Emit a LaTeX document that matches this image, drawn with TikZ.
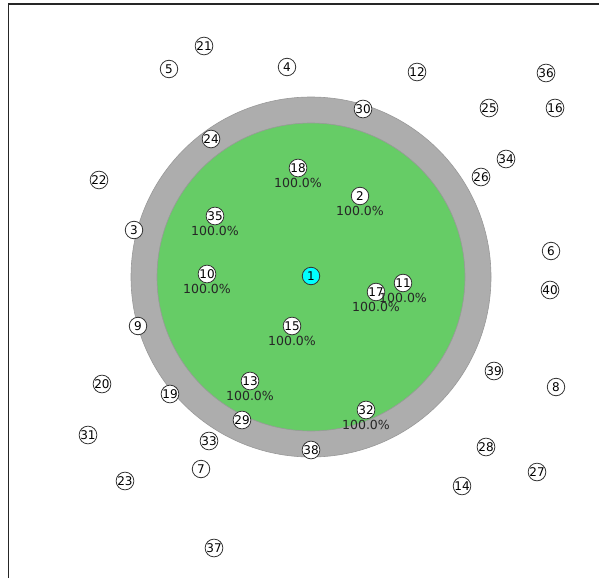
\documentclass[tikz,border=0pt]{standalone}
\usepackage{fontspec}
\setmainfont{DejaVu Sans}
\usepackage{xcolor}
\usetikzlibrary{positioning, calc}

\definecolor{zonegreen}{HTML}{66CC66}
\definecolor{ringgray}{HTML}{ADADAD}
\definecolor{sinkcyan}{HTML}{00FFFF}

\begin{document}
\begin{tikzpicture}[x=1pt, y=-1pt,
    nd/.style={draw=black!80, fill=white, circle, line width=0.8pt,
               minimum size=17.5pt, inner sep=0pt, font=\fontsize{12}{12}\selectfont},
    sink/.style={nd, fill=sinkcyan},
    pct/.style={inner sep=0pt, font=\fontsize{12.5}{12.5}\selectfont, text=black!85},
]
\useasboundingbox (0,0) rectangle (599,578);
% frame
\draw[line width=1.4pt, black!85] (8.5,578) -- (8.5,4) -- (599,4);

% coverage zones
\fill[ringgray, draw=black!40, line width=0.6pt] (311,277) circle (180);
\fill[zonegreen, draw=black!40, line width=0.6pt] (311,277) circle (154);

% sensor nodes
\node[sink] (n1) at (311,276) {1};
\foreach \id/\x/\y in {2/360/196, 3/134/230, 4/287/67, 5/169/69, 6/551/251,
    7/201/469, 8/556/387, 9/138/326, 10/207/274, 11/403/283, 12/417/72,
    13/250/381, 14/462/486, 15/292/326, 16/555/108, 17/376/292, 18/298/168,
    19/170/394, 20/102/384, 21/204/46, 22/99/180, 23/125/481, 24/211/139,
    25/489/108, 26/481/177, 27/537/472, 28/486/447, 29/242/420, 30/363/109,
    31/88/435, 32/366/410, 33/209/441, 34/506/159, 35/215/216, 36/546/73,
    37/214/548, 38/311/450, 39/494/371, 40/550/290}
    \node[nd] (n\id) at (\x,\y) {\id};

% coverage ratios
\foreach \id in {18, 2, 35, 10, 11, 17, 15, 13, 32}
    \node[pct, below=1pt] at (n\id.south) {100.0\%};
\end{tikzpicture}
\end{document}
